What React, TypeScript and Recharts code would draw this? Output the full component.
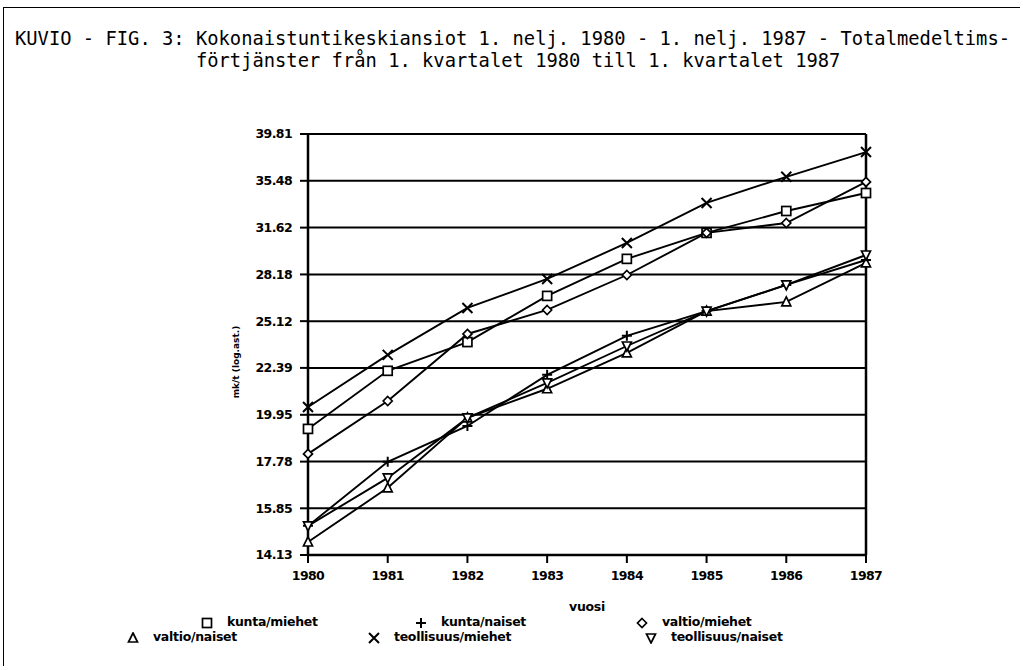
import React from 'react';
import { LineChart, Line, XAxis, YAxis, CartesianGrid, ReferenceLine } from 'recharts';

const years = ['1980', '1981', '1982', '1983', '1984', '1985', '1986', '1987'];
const yTicks = [14.13, 15.85, 17.78, 19.95, 22.39, 25.12, 28.18, 31.62, 35.48, 39.81];

const kuntaMiehet = [19.27, 22.23, 23.86, 26.73, 29.28, 31.21, 32.94, 34.43];
const kuntaNaiset = [15.18, 17.77, 19.41, 22.01, 24.23, 25.75, 27.46, 29.2];
const valtioMiehet = [18.12, 20.64, 24.34, 25.82, 28.14, 31.21, 31.98, 35.38];
const valtioNaiset = [14.59, 16.67, 19.8, 21.27, 23.23, 25.75, 26.34, 28.99];
const teollisuusMiehet = [20.34, 23.12, 25.95, 27.87, 30.45, 33.6, 35.83, 38.08];
const teollisuusNaiset = [15.18, 17.08, 19.8, 21.58, 23.63, 25.75, 27.46, 29.56];

type Shape = 'square' | 'plus' | 'diamond' | 'triUp' | 'cross' | 'triDown';

const series: { key: string; name: string; values: number[]; shape: Shape }[] = [
  { key: 'km', name: 'kunta/miehet', values: kuntaMiehet, shape: 'square' },
  { key: 'kn', name: 'kunta/naiset', values: kuntaNaiset, shape: 'plus' },
  { key: 'vm', name: 'valtio/miehet', values: valtioMiehet, shape: 'diamond' },
  { key: 'vn', name: 'valtio/naiset', values: valtioNaiset, shape: 'triUp' },
  { key: 'tm', name: 'teollisuus/miehet', values: teollisuusMiehet, shape: 'cross' },
  { key: 'tn', name: 'teollisuus/naiset', values: teollisuusNaiset, shape: 'triDown' },
];

const data = years.map((year, i) => {
  const row: { [k: string]: string | number } = { year };
  series.forEach(s => {
    row[s.key] = s.values[i];
  });
  return row;
});

const Marker = ({ shape, cx, cy }: { shape: Shape; cx: number; cy: number }) => {
  const common = { stroke: '#000', strokeWidth: 1.7, fill: '#fff' };
  switch (shape) {
    case 'square':
      return <rect x={cx - 4.5} y={cy - 4.5} width={9} height={9} {...common} />;
    case 'plus':
      return (
        <path d={`M${cx - 5},${cy} L${cx + 5},${cy} M${cx},${cy - 5} L${cx},${cy + 5}`} stroke="#000" strokeWidth={2} />
      );
    case 'diamond':
      return <path d={`M${cx},${cy - 4.5} L${cx + 4.5},${cy} L${cx},${cy + 4.5} L${cx - 4.5},${cy} Z`} {...common} />;
    case 'triUp':
      return <path d={`M${cx},${cy - 5} L${cx + 4.5},${cy + 4} L${cx - 4.5},${cy + 4} Z`} {...common} />;
    case 'cross':
      return (
        <path d={`M${cx - 5},${cy - 5} L${cx + 5},${cy + 5} M${cx + 5},${cy - 5} L${cx - 5},${cy + 5}`} stroke="#000" strokeWidth={2} />
      );
    case 'triDown':
      return <path d={`M${cx},${cy + 5} L${cx + 4.5},${cy - 4} L${cx - 4.5},${cy - 4} Z`} {...common} />;
    default:
      return null;
  }
};

const LegendIcon = ({ shape }: { shape: Shape }) => (
  <svg width={12} height={12} style={{ verticalAlign: 'middle', marginRight: 14 }}>
    <Marker shape={shape} cx={6} cy={6} />
  </svg>
);

const tickStyle = { fontFamily: 'DejaVu Sans', fontWeight: 700, fontSize: 12.5, fill: '#000', letterSpacing: -0.6 };
const legendText: React.CSSProperties = {
  position: 'absolute',
  fontFamily: 'DejaVu Sans',
  fontWeight: 700,
  fontSize: 12.5,
  letterSpacing: -0.3,
  whiteSpace: 'nowrap',
  lineHeight: '14px',
};

const legendItems: { shape: Shape; name: string; left: number; top: number }[] = [
  { shape: 'square', name: 'kunta/miehet', left: 201, top: 615 },
  { shape: 'plus', name: 'kunta/naiset', left: 415, top: 615 },
  { shape: 'diamond', name: 'valtio/miehet', left: 636, top: 615 },
  { shape: 'triUp', name: 'valtio/naiset', left: 127, top: 630 },
  { shape: 'cross', name: 'teollisuus/miehet', left: 368, top: 630 },
  { shape: 'triDown', name: 'teollisuus/naiset', left: 645, top: 630 },
];

export default function App() {
  return (
    <div style={{ position: 'absolute', left: 0, top: 0, width: 1023, height: 670, background: '#fff', overflow: 'hidden' }}>
      <div
        style={{
          position: 'absolute',
          left: 3,
          top: 7,
          width: 1016,
          height: 658,
          borderTop: '1.5px solid #000',
          borderLeft: '1.5px solid #000',
        }}
      />
      <div
        style={{
          position: 'absolute',
          left: 15,
          top: 28,
          fontFamily: 'DejaVu Sans Mono',
          fontSize: 18.8,
          lineHeight: '22px',
          whiteSpace: 'pre',
          color: '#000',
        }}
      >
        {'KUVIO - FIG. 3: Kokonaistuntikeskiansiot 1. nelj. 1980 - 1. nelj. 1987 - Totalmedeltims-\n                förtjänster från 1. kvartalet 1980 till 1. kvartalet 1987'}
      </div>

      <LineChart width={1023} height={670} data={data} margin={{ top: 134, right: 157, left: 248, bottom: 75 }}>
        <CartesianGrid vertical={false} stroke="#000" strokeWidth={2} strokeDasharray="" />
        <XAxis
          dataKey="year"
          interval={0}
          height={40}
          tick={tickStyle}
          tickSize={8}
          tickMargin={8}
          axisLine={{ stroke: '#000', strokeWidth: 2.5 }}
          tickLine={{ stroke: '#000', strokeWidth: 2 }}
        />
        <YAxis
          type="number"
          scale="log"
          domain={[14.13, 39.81]}
          ticks={yTicks}
          allowDataOverflow
          width={60}
          tick={tickStyle}
          tickSize={8}
          tickMargin={8}
          tickFormatter={(v: number) => v.toFixed(2)}
          axisLine={{ stroke: '#000', strokeWidth: 2.5 }}
          tickLine={{ stroke: '#000', strokeWidth: 2 }}
        />
        <ReferenceLine x="1987" stroke="#000" strokeWidth={2.5} />
        {series.map(s => (
          <Line
            key={s.key}
            dataKey={s.key}
            name={s.name}
            type="linear"
            stroke="#000"
            strokeWidth={1.9}
            isAnimationActive={false}
            dot={(p: any) => <Marker key={`${s.key}-${p.index}`} shape={s.shape} cx={p.cx} cy={p.cy} />}
            activeDot={false}
          />
        ))}
      </LineChart>

      <div
        style={{
          position: 'absolute',
          left: 236,
          top: 362,
          transform: 'translate(-50%, -50%) rotate(-90deg)',
          fontFamily: 'DejaVu Sans',
          fontWeight: 700,
          fontSize: 9,
          whiteSpace: 'nowrap',
        }}
      >
        mk/t (log.ast.)
      </div>
      <div style={{ ...legendText, left: 587, top: 600, transform: 'translateX(-50%)' }}>vuosi</div>
      {legendItems.map(item => (
        <div key={item.name} style={{ ...legendText, left: item.left, top: item.top }}>
          <LegendIcon shape={item.shape} />
          {item.name}
        </div>
      ))}
    </div>
  );
}
